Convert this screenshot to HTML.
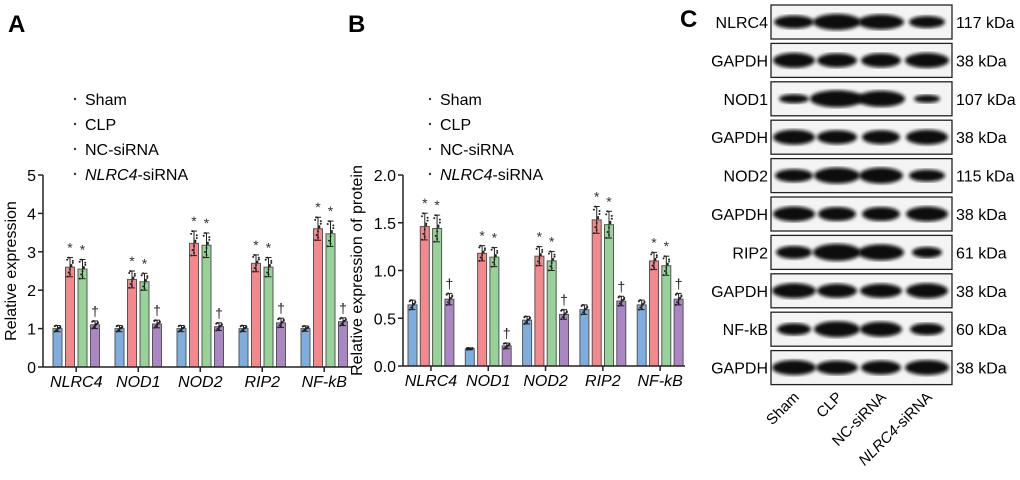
<!DOCTYPE html>
<html><head><meta charset="utf-8"><style>
body{margin:0;background:#fff;}
svg{display:block;font-family:"Liberation Sans",Arial,sans-serif;}
</style></head><body>
<svg id="fig" width="1020" height="480" viewBox="0 0 1020 480"></svg>
<script>
const categories=["NLRC4","NOD1","NOD2","RIP2","NF-kB"];
const groups=["Sham","CLP","NC-siRNA","NLRC4-siRNA"];
const colors=["#7eaee0","#f3898d","#97d398","#ab86c4"];
const aSham=[1.0,1.0,1.0,1.0,1.0];
const aCLP=[2.6,2.28,3.22,2.7,3.6];
const aNC=[2.55,2.22,3.17,2.6,3.47];
const aSi=[1.1,1.12,1.05,1.15,1.18];
const aErr=[[0.08,0.08,0.08,0.08,0.07],[0.25,0.22,0.32,0.22,0.3],[0.25,0.22,0.32,0.25,0.33],[0.1,0.1,0.1,0.12,0.1]];
const bSham=[0.64,0.18,0.48,0.59,0.64];
const bCLP=[1.46,1.18,1.15,1.53,1.10];
const bNC=[1.44,1.14,1.10,1.48,1.05];
const bSi=[0.70,0.21,0.54,0.68,0.70];
const bErr=[[0.05,0.01,0.04,0.05,0.05],[0.14,0.08,0.1,0.14,0.09],[0.14,0.1,0.1,0.14,0.1],[0.06,0.03,0.05,0.05,0.06]];
const aTicks=["0","1","2","3","4","5"];
const bTicks=["0.0","0.5","1.0","1.5","2.0"];
const blotLabels=["NLRC4","GAPDH","NOD1","GAPDH","NOD2","GAPDH","RIP2","GAPDH","NF-kB","GAPDH"];
const blotKda=["117 kDa","38 kDa","107 kDa","38 kDa","115 kDa","38 kDa","61 kDa","38 kDa","60 kDa","38 kDa"];
const bandW=[[40,48,46,36],[42,40,40,44],[30,54,48,26],[42,40,38,42],[38,46,44,36],[42,38,38,42],[36,48,46,30],[44,40,42,42],[34,46,42,34],[44,42,40,44]];
const bandH=[[13,16,15,12],[15,14,14,15],[9,17,16,8],[15,14,14,15],[13,16,16,12],[15,14,14,15],[13,17,16,11],[15,14,14,15],[12,16,15,12],[15,14,14,15]];
const lanes=["Sham","CLP","NC-siRNA","NLRC4-siRNA"];

const NS="http://www.w3.org/2000/svg";
const svg=document.getElementById('fig');
function mk(tag,attrs,parent,text){const e=document.createElementNS(NS,tag);for(const k in attrs)e.setAttribute(k,attrs[k]);if(text!==undefined)e.textContent=text;(parent||svg).appendChild(e);return e;}

function chart(o){
  const g=mk('g',{});
  
  
  const y=v=>o.y0-(v-0)*(o.y0-o.yTop)/o.yMax;
  const series=o.series;
  for(let c=0;c<categories.length;c++){
    for(let s=0;s<4;s++){
      const x=o.x0+c*o.gp+s*o.bp;
      const v=series[s][c], e=o.err[s][c];
      const r=mk('rect',{x:x,y:y(v),width:o.bw,height:o.y0-y(v),fill:colors[s],stroke:"#555","stroke-width":1},g);
      
      
      const cx=x+o.bw/2;
      mk('line',{x1:cx,x2:cx,y1:y(v+e),y2:y(v-e),stroke:"#222","stroke-width":1},g);
      mk('line',{x1:cx-3,x2:cx+3,y1:y(v+e),y2:y(v+e),stroke:"#222","stroke-width":1},g);
      mk('line',{x1:cx-3,x2:cx+3,y1:y(v-e),y2:y(v-e),stroke:"#222","stroke-width":1},g);
      const offs=[-0.9,-0.5,-0.2,0.1,0.4,0.7,0.9,-0.7,0.2,0.6];
      for(let k=0;k<10;k++){
        const dv=v+e*offs[k]*1.1;
        mk('circle',{cx:cx+((k%5)-2)*1.4,cy:y(dv),r:1,fill:"#222"},g);
      }
      if(s===1||s===2){mk('text',{x:cx,y:y(v+e)-5,'font-size':14,'text-anchor':'middle',fill:'#333'},g,'*');}
      if(s===3){mk('text',{x:cx,y:y(v+e)-5,'font-size':14,'text-anchor':'middle',fill:'#222'},g,'†');}
    }
    const lbl=mk('text',{x:o.x0+c*o.gp+1.5*o.bp+o.bw/2,y:o.y0+20,'font-size':16,'font-style':'italic','text-anchor':'middle'},g,categories[c]);
    
    
  }
  mk('line',{x1:o.ax,x2:o.ax,y1:o.yTop,y2:o.y0,stroke:"#222","stroke-width":1.5},g);
  mk('line',{x1:o.ax,x2:o.xEnd,y1:o.y0,y2:o.y0,stroke:"#222","stroke-width":1.5},g);
  o.ticks.forEach((t,i)=>{
    const v=i*o.step;
    mk('line',{x1:o.ax-5,x2:o.ax,y1:y(v),y2:y(v),stroke:"#222","stroke-width":1.5},g);
    const tl=mk('text',{x:o.ax-7,y:y(v)+6,'font-size':16,'text-anchor':'end'},g,t);
    
    
  });
  for(let c=0;c<categories.length;c++){
    const cx=o.x0+c*o.gp+1.5*o.bp+o.bw/2;
    mk('line',{x1:cx,x2:cx,y1:o.y0,y2:o.y0+5,stroke:"#222","stroke-width":1.5},g);
  }
  const yt=mk('text',{x:0,y:0,'font-size':16,'text-anchor':'middle',transform:`translate(${o.ylx},${(o.y0+o.yTop)/2}) rotate(-90)`},g,o.ylabel);
  
  
  groups.forEach((gname,i)=>{
    const ly=105+i*25;
    mk('circle',{cx:o.lx,cy:ly-6,r:1.2,fill:'#333'},g);
    const t=mk('text',{x:o.lx+10,y:ly,'font-size':16},g);
    
    
    if(i===3){mk('tspan',{'font-style':'italic'},t,'NLRC4');mk('tspan',{},t,'-siRNA');}
    else t.textContent=gname;
  });
}
chart({name:'chart-a',series:[aSham,aCLP,aNC,aSi],err:aErr,x0:53,gp:62,bp:12.5,bw:9,y0:367,yTop:175,yMax:5,ax:43,xEnd:352,ticks:aTicks,step:1,ylabel:'Relative expression',ylx:16,lx:75});
chart({name:'chart-b',series:[bSham,bCLP,bNC,bSi],err:bErr,x0:408,gp:57.3,bp:12.3,bw:9,y0:366,yTop:175,yMax:2,ax:403,xEnd:685,ticks:bTicks,step:0.5,ylabel:'Relative expression of protein',ylx:362,lx:430});

[['A',8,32],['B',348,32],['C',680,27]].forEach(p=>{
  const t=mk('text',{x:p[1],y:p[2],'font-size':24,'font-weight':'bold'},svg,p[0]);
  
  
});

const bg=mk('g',{});


mk('defs',{},bg).innerHTML='<filter id="bl"><feGaussianBlur stdDeviation="1.8"/></filter>';
const laneX=[794,837,881,927];
blotLabels.forEach((lab,i)=>{
  const top=5+i*38.4;
  const r=mk('rect',{x:771,y:top,width:181,height:34,fill:'#f4f4f4',stroke:'#222','stroke-width':1.3},bg);
  
  
  laneX.forEach((lx,j)=>{
    mk('ellipse',{cx:lx,cy:top+17,rx:bandW[i][j]/2,ry:bandH[i][j]/2,fill:'#080808',filter:'url(#bl)'},bg);
  });
  const l=mk('text',{x:768,y:top+23,'font-size':16,'text-anchor':'end'},bg,lab);
  
  
  const k=mk('text',{x:956,y:top+23,'font-size':16},bg,blotKda[i]);
  
  
});
lanes.forEach((ln,j)=>{
  const t=mk('text',{x:0,y:0,'font-size':15,'text-anchor':'end',transform:`translate(${laneX[j]+6},${398}) rotate(-45)`},bg);
  
  
  if(j===3){mk('tspan',{'font-style':'italic'},t,'NLRC4');mk('tspan',{},t,'-siRNA');}
  else t.textContent=ln;
});
</script>
</body></html>
